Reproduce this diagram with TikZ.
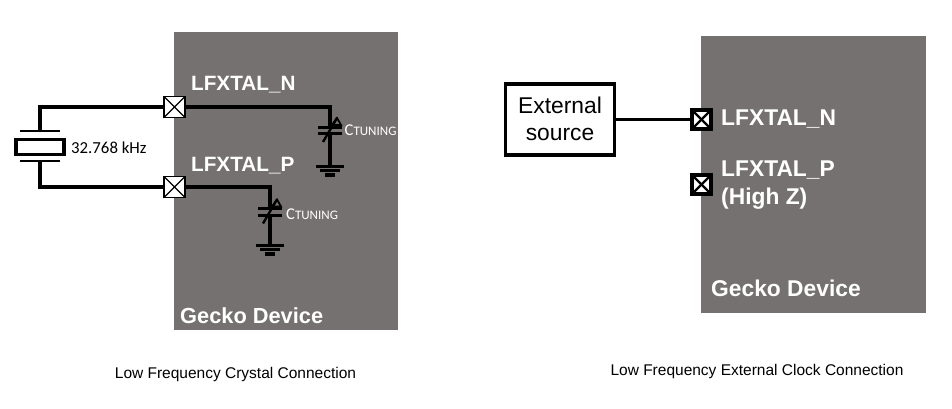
\documentclass[tikz,border=0pt]{standalone}
\usepackage{fontspec}
\setmainfont{Liberation Sans}
\newfontfamily\carl{Carlito}
\usetikzlibrary{calc}
\definecolor{device}{HTML}{767171}
\tikzset{
  x=1pt,y=-1pt,
  devbox/.style={fill=device,draw=none,inner sep=0,outer sep=0},
  padthin/.style={draw=black,fill=white,line width=1.3pt,minimum size=21pt,inner sep=0,outer sep=0},
  padbold/.style={draw=black,fill=white,line width=3.4pt,minimum size=19pt,inner sep=0,outer sep=0},
  wire/.style={draw=black,line width=3.2pt},
  lab/.style={text=white,font=\fontsize{20.7}{24}\selectfont\bfseries,anchor=west,inner sep=0,align=left},
  labbig/.style={text=white,font=\fontsize{22.8}{28}\selectfont\bfseries,anchor=west,inner sep=0,align=left},
  ctune/.style={text=white,font=\carl\fontsize{16.5}{18}\selectfont,anchor=west,inner sep=0},
  captext/.style={font=\fontsize{15.5}{18}\selectfont,inner sep=0},
}
\newcommand{\varcap}[3]{% name, x, y of top plate
  \coordinate (#1top) at (#2,#3);
  \coordinate (#1bot) at (#2,#3+6.5);
  \draw[line width=3pt] ($(#1top)+(-12,0)$) -- ($(#1top)+(12,0)$);
  \draw[line width=3pt] ($(#1bot)+(-12,0)$) -- ($(#1bot)+(12,0)$);
  \draw[line width=2.4pt] ($(#1top)+(-7,15)$) -- ($(#1top)+(7,-9)$);
  \draw[line width=1.8pt] ($(#1top)+(2,-2)$) -- ($(#1top)+(7,-9)$) -- ($(#1top)+(11,-2)$) -- cycle;
}
\newcommand{\gnd}[3]{% name x y
  \coordinate (#1) at (#2,#3);
  \draw[line width=3pt] ($(#1)+(-14,0)$) -- ($(#1)+(14,0)$);
  \draw[line width=3pt] ($(#1)+(-10,4.5)$) -- ($(#1)+(10,4.5)$);
  \draw[line width=3.4pt] ($(#1)+(-5,9)$) -- ($(#1)+(5,9)$);
}
\begin{document}
\begin{tikzpicture}
\useasboundingbox (0,0) rectangle (952,409);
% device boxes
\node[devbox,minimum width=224pt,minimum height=298pt] (devA) at (286,181) {};
\node[devbox,minimum width=225pt,minimum height=277pt] (devB) at (813.5,174.5) {};
% left: crystal
\coordinate (xtop) at (40,131);
\coordinate (xbot) at (40,161);
\node[draw=black,line width=3.2pt,fill=white,minimum width=48pt,minimum height=15pt,inner sep=0] (xtal) at (40,147) {};
\draw[line width=2.6pt] (20,131) -- (60,131);
\draw[line width=2.6pt] (20,161) -- (60,161);
\node[padthin] (padN) at (174.5,107) {};
\node[padthin] (padP) at (174.5,187) {};
\draw[wire] (xtop) |- (padN.west);
\draw[wire] (xbot) |- (padP.west);
\draw[line width=1.1pt] (padN.north west) -- (padN.south east) (padN.north east) -- (padN.south west);
\draw[line width=1.1pt] (padP.north west) -- (padP.south east) (padP.north east) -- (padP.south west);
\node[anchor=west,inner sep=0,font=\carl\fontsize{16.8}{19}\selectfont,text=black] (freq) at (71,148) {32.768 kHz};
% capacitors
\varcap{ca}{330}{127}
\gnd{ga}{330}{166}
\draw[wire] (padN.east) -| (catop);
\draw[wire] (cabot) -- (ga);
\varcap{cb}{270}{208.5}
\gnd{gb}{270}{245}
\draw[wire] (padP.east) -| (cbtop);
\draw[wire] (cbbot) -- (gb);
\node[ctune] (c1) at (344.5,130) {C{\fontsize{13}{14}\selectfont TUNING}};
\node[ctune] (c2) at (286,214) {C{\fontsize{13}{14}\selectfont TUNING}};
\node[lab] (ln1) at (191,84.5) {LFXTAL\_N};
\node[lab] (lp1) at (191,165.5) {LFXTAL\_P};
\node[lab,font=\fontsize{21.8}{25}\selectfont\bfseries] (g1) at (180,315.5) {Gecko Device};
\node[captext] (capA) at (235.5,374) {Low Frequency Crystal Connection};
% right
\node[draw=black,line width=3.4pt,fill=white,minimum width=109pt,minimum height=71pt,inner sep=0,align=center,font=\fontsize{22.8}{27}\selectfont] (ext) at (560,119.5) {\raisebox{1pt}{External}\\\raisebox{1pt}{source}};
\node[padbold] (pN2) at (701.5,119.5) {};
\node[padbold] (pP2) at (701.5,184.5) {};
\draw[wire] (ext.east) -- (pN2.west);
\foreach \p in {pN2,pP2}{
  \draw[line width=2.4pt] ($(\p.north west)+(1.5,1.5)$) -- ($(\p.south east)+(-1.5,-1.5)$);
  \draw[line width=2.4pt] ($(\p.north east)+(-1.5,1.5)$) -- ($(\p.south west)+(1.5,-1.5)$);
}
\node[labbig] (ln2) at (721,119.5) {LFXTAL\_N};
\node[labbig] (lp2) at (721,185) {LFXTAL\_P\\(High Z)};
\node[labbig] (g2) at (711,288.5) {Gecko Device};
\node[captext] (capB) at (757,371.5) {Low Frequency External Clock Connection};
\end{tikzpicture}
\end{document}
